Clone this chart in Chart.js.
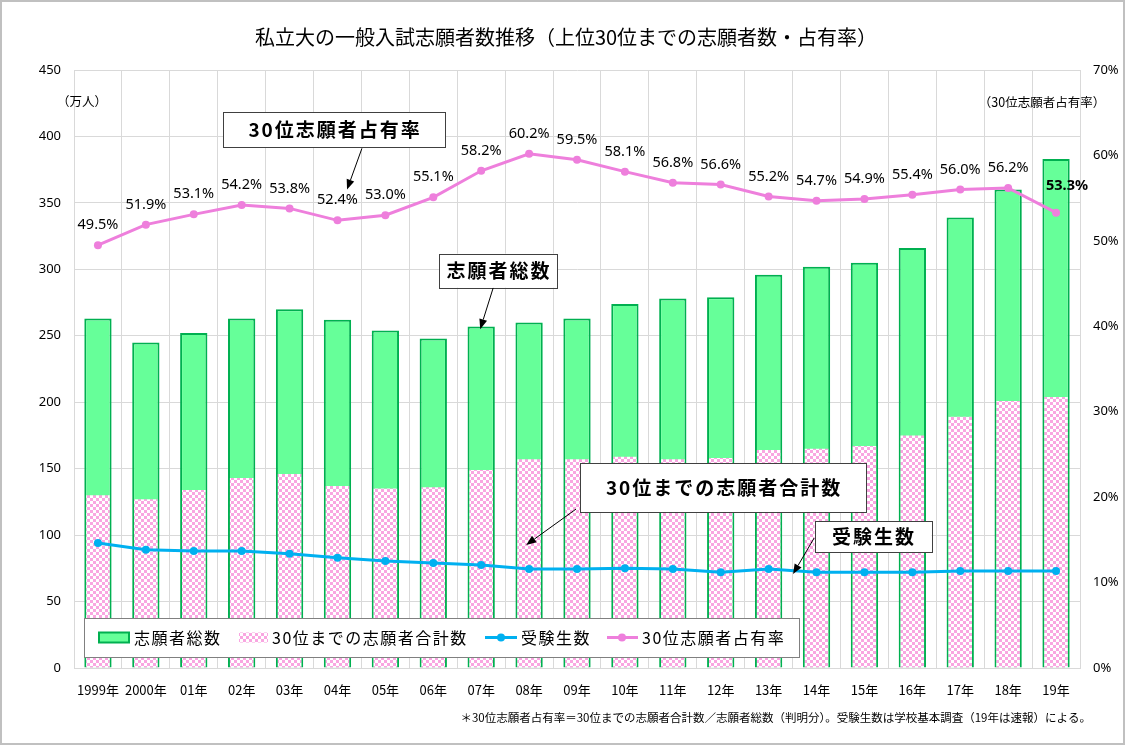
<!DOCTYPE html>
<html>
<head>
<meta charset="utf-8">
<script src="https://cdn.jsdelivr.net/npm/chart.js@4"></script>
<style>
  body { margin: 0; background: #fff; }
  #wrap { width: 1125px; height: 745px; position: relative; }
</style>
</head>
<body>
<div id="wrap"><canvas id="myChart"></canvas></div>
<script>
const years = ['1999年', '2000年', '01年', '02年', '03年', '04年', '05年', '06年', '07年', '08年',
  '09年', '10年', '11年', '12年', '13年', '14年', '15年', '16年', '17年', '18年', '19年'];
// 志願者総数 (万人)
const totalApplicants = [263, 245, 252, 263, 270, 262, 254, 248, 257, 260, 263, 274, 278, 279, 296, 302, 305, 316, 339, 360, 383];
// 30位までの志願者合計数 (万人)
const top30Applicants = [130, 127, 134, 143, 146, 137, 135, 136, 149, 157, 157, 159, 157, 158, 164, 165, 167, 175, 189, 201, 204];
// 受験生数 (万人)
const examTakers = [94, 89, 88, 88, 86, 83, 80.5, 79, 77.5, 74.5, 74.5, 75, 74.5, 72, 74.5, 72, 72, 72, 73, 73, 73];
// 30位志願者占有率 (%)
const top30Share = [49.5, 51.9, 53.1, 54.2, 53.8, 52.4, 53.0, 55.1, 58.2, 60.2, 59.5, 58.1, 56.8, 56.6, 55.2, 54.7, 54.9, 55.4, 56.0, 56.2, 53.3];

const leftTicks = [0, 50, 100, 150, 200, 250, 300, 350, 400, 450];
const rightTicks = [0, 10, 20, 30, 40, 50, 60, 70];

const JP = "'Noto Sans CJK JP', 'Noto Sans', sans-serif";
const GREEN = '#66FF99';
const GREEN_BORDER = '#00B050';
const BLUE = '#00B0F0';
const VIOLET = '#EE7FDC';

// checkered pink pattern
const pc = document.createElement('canvas');
pc.width = 6; pc.height = 6;
const pctx = pc.getContext('2d');
pctx.fillStyle = '#ffffff';
pctx.fillRect(0, 0, 6, 6);
pctx.fillStyle = '#F9A6E1';
pctx.fillRect(0, 0, 3, 3);
pctx.fillRect(3, 3, 3, 3);
const pinkPattern = pctx.createPattern(pc, 'repeat');

// callouts: box centre (category index, left axis value), arrow from/to
const callouts = [
  { text: '30位志願者占有率', cx: 4.93, cy: 405, w: 222, h: 35, from: [5.51, 391], to: [5.20, 360] },
  { text: '志願者総数', cx: 8.35, cy: 299, w: 118, h: 34, from: [8.25, 286], to: [7.98, 255] },
  { text: '30位までの志願者合計数', cx: 13.05, cy: 135.5, w: 286, h: 49, from: [9.98, 119.6], to: [8.94, 92.6] },
  { text: '受験生数', cx: 16.18, cy: 98.6, w: 117, h: 31, from: [14.95, 97.8], to: [14.51, 70.7] },
];

function arrow(ctx, x1, y1, x2, y2) {
  ctx.save();
  ctx.strokeStyle = '#000';
  ctx.fillStyle = '#000';
  ctx.lineWidth = 1;
  const a = Math.atan2(y2 - y1, x2 - x1);
  const hl = 10, hw = 4;
  const bx = x2 - hl * Math.cos(a), by = y2 - hl * Math.sin(a);
  ctx.beginPath();
  ctx.moveTo(x1, y1);
  ctx.lineTo(bx, by);
  ctx.stroke();
  ctx.beginPath();
  ctx.moveTo(x2, y2);
  ctx.lineTo(bx + hw * Math.sin(a), by - hw * Math.cos(a));
  ctx.lineTo(bx - hw * Math.sin(a), by + hw * Math.cos(a));
  ctx.closePath();
  ctx.fill();
  ctx.restore();
}

const decorations = {
  id: 'decorations',
  afterDraw(chart) {
    const ctx = chart.ctx;
    const x = chart.scales.x, y = chart.scales.y;
    ctx.save();

    // outer frame
    ctx.strokeStyle = '#c0c0c0';
    ctx.lineWidth = 2;
    ctx.strokeRect(1, 1, 1123, 743);

    // title
    ctx.fillStyle = '#000';
    ctx.textAlign = 'center';
    ctx.textBaseline = 'middle';
    ctx.font = '20px ' + JP;
    ctx.fillText('私立大の一般入試志願者数推移（上位30位までの志願者数・占有率）', 566, 37);

    // axis titles
    ctx.font = '12.5px ' + JP;
    ctx.fillText('（万人）', 82, 101);
    ctx.fillText('（30位志願者占有率）', 1042, 102);

    // footnote
    ctx.textAlign = 'right';
    ctx.font = '11.5px ' + JP;
    ctx.fillText('＊30位志願者占有率＝30位までの志願者合計数／志願者総数（判明分）。受験生数は学校基本調査（19年は速報）による。', 1091, 718);

    // share labels
    const meta = chart.getDatasetMeta(3);
    ctx.textAlign = 'center';
    meta.data.forEach((pt, i) => {
      const last = i === meta.data.length - 1;
      ctx.font = (last ? 'bold ' : '') + "14.5px 'Noto Sans', sans-serif";
      const t = top30Share[i].toFixed(1) + '%';
      ctx.fillText(t, pt.x + (last ? 11 : 0), pt.y - (last ? 27 : 20));
    });

    // callouts
    callouts.forEach(c => {
      const bx = x.getPixelForValue(c.cx), by = y.getPixelForValue(c.cy);
      ctx.fillStyle = '#fff';
      ctx.fillRect(bx - c.w / 2, by - c.h / 2, c.w, c.h);
      ctx.strokeStyle = '#404040';
      ctx.lineWidth = 1;
      ctx.strokeRect(Math.round(bx - c.w / 2) + 0.5, Math.round(by - c.h / 2) + 0.5, c.w, c.h);
      ctx.fillStyle = '#000';
      ctx.font = 'bold 19px ' + JP;
      ctx.letterSpacing = '2px';
      ctx.fillText(c.text, bx + 1, by);
      ctx.letterSpacing = '0px';
      arrow(ctx, x.getPixelForValue(c.from[0]), y.getPixelForValue(c.from[1]),
        x.getPixelForValue(c.to[0]), y.getPixelForValue(c.to[1]));
    });

    // legend box
    const lx = 84, ly = 618, lw = 715, lh = 39;
    ctx.fillStyle = '#fff';
    ctx.fillRect(lx, ly, lw, lh);
    ctx.strokeStyle = '#808080';
    ctx.lineWidth = 1;
    ctx.strokeRect(lx + 0.5, ly + 0.5, lw, lh);
    const cy = ly + lh / 2;
    ctx.textAlign = 'left';
    ctx.font = '16px ' + JP;
    ctx.letterSpacing = '1.5px';
    // 志願者総数
    ctx.fillStyle = GREEN;
    ctx.fillRect(99, cy - 5, 30, 10);
    ctx.strokeStyle = GREEN_BORDER;
    ctx.lineWidth = 2;
    ctx.strokeRect(99, cy - 5, 30, 10);
    ctx.fillStyle = '#000';
    ctx.fillText('志願者総数', 134, cy);
    // 30位までの志願者合計数
    ctx.fillStyle = pinkPattern;
    ctx.fillRect(239, cy - 5, 29, 10);
    ctx.fillStyle = '#000';
    ctx.fillText('30位までの志願者合計数', 272, cy);
    // 受験生数
    ctx.strokeStyle = BLUE;
    ctx.lineWidth = 3;
    ctx.beginPath(); ctx.moveTo(485, cy); ctx.lineTo(517, cy); ctx.stroke();
    ctx.fillStyle = BLUE;
    ctx.beginPath(); ctx.arc(501, cy, 4, 0, Math.PI * 2); ctx.fill();
    ctx.fillStyle = '#000';
    ctx.fillText('受験生数', 521, cy);
    // 30位志願者占有率
    ctx.strokeStyle = VIOLET;
    ctx.beginPath(); ctx.moveTo(607, cy); ctx.lineTo(638, cy); ctx.stroke();
    ctx.fillStyle = VIOLET;
    ctx.beginPath(); ctx.arc(622, cy, 4, 0, Math.PI * 2); ctx.fill();
    ctx.fillStyle = '#000';
    ctx.fillText('30位志願者占有率', 642, cy);
    ctx.letterSpacing = '0px';

    ctx.restore();
  }
};

const data = {
  labels: years,
  datasets: [
    {
      type: 'bar',
      label: '志願者総数',
      data: totalApplicants,
      backgroundColor: GREEN,
      borderColor: GREEN_BORDER,
      borderWidth: 2,
      grouped: false,
      barPercentage: 0.57,
      categoryPercentage: 1,
      yAxisID: 'y',
      order: 3,
    },
    {
      type: 'bar',
      label: '30位までの志願者合計数',
      data: top30Applicants,
      backgroundColor: pinkPattern,
      borderWidth: 0,
      grouped: false,
      barPercentage: 0.49,
      categoryPercentage: 1,
      yAxisID: 'y',
      order: 2,
    },
    {
      type: 'line',
      label: '受験生数',
      data: examTakers,
      borderColor: BLUE,
      backgroundColor: BLUE,
      borderWidth: 3,
      pointRadius: 4,
      pointBorderWidth: 0,
      yAxisID: 'y',
      order: 1,
    },
    {
      type: 'line',
      label: '30位志願者占有率',
      data: top30Share,
      borderColor: VIOLET,
      backgroundColor: VIOLET,
      borderWidth: 3,
      pointRadius: 4,
      pointBorderWidth: 0,
      yAxisID: 'y1',
      order: 0,
    },
  ],
};

const config = {
  type: 'bar',
  data,
  plugins: [decorations],
  options: {
    responsive: true,
    maintainAspectRatio: false,
    animation: false,
    layout: { padding: { top: 70, left: 0, right: 0, bottom: 0 } },
    plugins: {
      legend: { display: false },
      tooltip: { enabled: false },
      title: { display: false },
    },
    scales: {
      x: {
        offset: true,
        grid: { offset: true, color: '#d9d9d9', drawTicks: false },
        border: { color: '#d9d9d9' },
        ticks: {
          autoSkip: false, maxRotation: 0, padding: 14, color: '#000',
          font: { family: JP, size: 13 },
        },
        afterFit(scale) { scale.height = 77; },
      },
      y: {
        position: 'left',
        min: 0, max: 450,
        afterBuildTicks(scale) { scale.ticks = leftTicks.map(v => ({ value: v })); },
        grid: { color: '#d9d9d9', drawTicks: false },
        border: { color: '#d9d9d9' },
        ticks: { padding: 13, color: '#000', font: { family: "'Noto Sans', sans-serif", size: 13 } },
        afterFit(scale) { scale.width = 74; },
      },
      y1: {
        position: 'right',
        min: 0, max: 70,
        afterBuildTicks(scale) { scale.ticks = rightTicks.map(v => ({ value: v })); },
        grid: { display: false, drawTicks: false },
        border: { display: false },
        ticks: {
          padding: 13, color: '#000', font: { family: "'Noto Sans', sans-serif", size: 13 },
          callback: v => v + '%',
        },
        afterFit(scale) { scale.width = 45; },
      },
    },
  },
};

const ctx = document.getElementById('myChart');
const chart = new Chart(ctx, config);
</script>
</body>
</html>
